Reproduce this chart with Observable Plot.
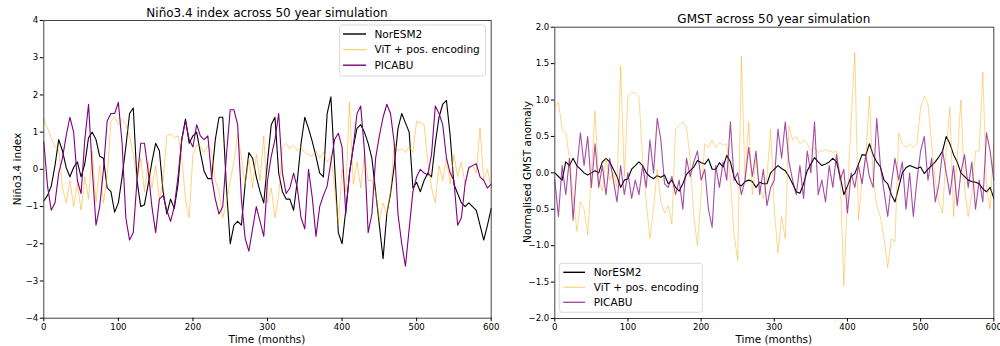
<!DOCTYPE html>
<html><head><meta charset="utf-8">
<script src="https://cdn.jsdelivr.net/npm/d3@7"></script>
<script src="https://cdn.jsdelivr.net/npm/@observablehq/plot@0.6"></script>
<style>
html,body{margin:0;padding:0;background:#fff;}
#wrap{display:flex;width:1000px;height:346px;overflow:hidden;}
svg{font-family:"DejaVu Sans",sans-serif;}
</style></head><body><div id="wrap"></div>
<script>
// x grid: months 0..600 every 5 months
const months = d3.range(0, 601, 5);
const xTicks = [0, 100, 200, 300, 400, 500, 600];
const ninoTicks = [-4, -3, -2, -1, 0, 1, 2, 3, 4];
const gmstTicks = [-2, -1.5, -1, -0.5, 0, 0.5, 1, 1.5, 2];
const seriesNames = ["NorESM2", "ViT + pos. encoding", "PICABU"];

const ninoNorESM = [
-0.85,-0.7,-0.45,0.1,0.8,0.5,0.05,-0.2,0.05,0.2,
-0.2,0.15,0.85,1.0,0.8,0.35,0.3,-0.5,-0.6,-1.15,
-0.9,-0.2,0.6,1.5,1.65,-0.3,-1.0,-0.95,-0.4,0.2,
0.7,0.5,-0.6,-1.2,-0.8,-1.05,-0.4,0.8,1.35,0.7,
0.9,1.0,0.45,-0.05,-0.25,-0.25,0.8,1.4,1.4,-0.5,
-2.0,-1.5,-1.4,-1.5,-0.4,0.45,0.3,-0.2,-0.6,-0.9,
0.2,1.2,1.4,-0.1,-0.6,-0.8,-0.8,-1.1,-0.3,0.7,
1.4,1.1,0.75,0.35,-0.1,-0.2,1.5,1.95,0.1,-1.7,
-2.0,-1.1,-0.1,0.6,1.1,1.2,1.0,0.7,0.3,-0.6,
-1.5,-2.4,-1.2,-0.65,0.1,1.1,1.5,1.25,1.0,-0.5,
-0.35,-0.6,-0.3,-0.1,-0.2,0.7,1.4,1.75,1.85,0.9,
-0.4,-0.65,-0.9,-1.0,-0.9,-1.0,-1.1,-1.5,-1.9,-1.5,
-1.05];
const ninoViT = [
1.35,1.1,0.85,0.6,0.55,-0.5,-0.9,-0.3,-1.0,-0.4,
-1.1,-0.2,-0.8,0.5,-0.9,0.1,-0.9,-0.2,1.3,1.4,
1.2,1.35,1.2,0.9,0.4,-0.3,0.3,-0.6,0.2,-0.5,
0.1,-0.8,-0.3,0.9,0.95,0.85,0.9,0.3,-0.8,-1.3,
0.4,0.65,0.6,0.45,0.65,0.5,-0.3,-0.6,-1.3,-0.9,
-0.3,0.2,0.95,0.3,-0.4,0.3,-0.5,0.4,-0.3,0.9,
-0.9,-0.5,-1.3,-0.7,0.6,0.7,0.55,0.65,0.5,0.6,
0.45,0.4,0.35,0.5,0.3,0.45,0.2,0.35,-0.5,-1.5,
0.0,-0.6,1.8,-0.4,0.2,-0.5,0.4,-0.3,-0.3,-0.6,
-1.4,-0.9,-1.2,-0.6,0.7,0.5,0.55,0.45,0.6,0.45,
1.3,1.25,1.2,0.2,-0.5,-0.9,0.1,-0.3,0.3,-0.4,
0.4,-0.2,0.2,-0.4,0.0,0.1,-0.1,1.1,-0.3,0.0,
-0.5];
const ninoPICABU = [
0.75,-0.45,-1.1,-0.9,-0.1,0.3,0.9,1.4,1.0,-0.3,
-0.65,0.8,1.75,0.0,-1.5,-1.0,0.0,1.3,1.5,1.5,
1.8,0.7,-1.3,-1.9,-1.7,-0.3,0.7,0.7,-0.05,-1.0,
-1.7,-0.8,-0.7,-1.1,-1.4,-1.0,-0.2,0.8,1.3,0.8,
0.6,1.2,0.9,0.8,0.9,-0.2,-0.8,-1.2,-1.0,0.4,
1.6,1.6,1.2,-0.8,-1.85,-2.2,-1.6,-1.0,-1.4,-1.8,
-0.3,0.35,0.8,1.5,-0.1,-0.65,-0.5,-0.1,-0.5,-1.3,
-1.6,0.0,-0.75,-1.8,-1.0,-0.7,-0.45,0.2,0.8,0.97,
0.6,-1.2,-0.1,0.6,1.5,1.7,0.5,-1.7,-1.2,0.3,
0.9,1.4,1.75,1.5,0.7,-1.2,-2.0,-2.6,-1.6,-0.6,
-0.2,0.0,-0.1,-0.15,0.4,1.7,1.5,1.2,0.3,-0.1,
-0.3,-1.5,-1.3,-0.4,0.05,0.1,0.15,-0.2,-0.3,-0.5,
-0.4];

const gmstNorESM = [
0.0,-0.05,-0.1,0.15,0.1,0.2,0.1,0.05,0.0,-0.03,
0.0,0.03,0.0,0.15,0.2,0.15,0.05,-0.05,-0.2,-0.1,
-0.08,0.05,0.1,0.15,0.1,0.0,-0.05,-0.08,-0.04,-0.06,
-0.03,-0.15,-0.1,-0.2,-0.25,-0.15,-0.02,0.03,0.08,0.17,
0.14,0.12,0.19,0.05,0.05,0.14,0.08,0.24,0.15,-0.06,
-0.15,-0.18,-0.12,-0.1,-0.12,-0.2,-0.13,-0.15,-0.15,0.0,
0.05,0.1,0.06,0.03,-0.05,-0.15,-0.26,-0.28,-0.15,0.03,
0.12,0.21,0.15,0.1,0.12,0.15,0.2,0.15,-0.05,-0.3,
-0.18,-0.05,-0.01,0.12,0.25,0.24,0.4,0.25,0.15,0.08,
-0.1,-0.15,-0.3,-0.4,-0.2,0.0,0.07,0.1,0.08,0.06,
0.08,-0.01,0.05,0.1,0.15,0.22,0.3,0.5,0.4,0.25,
0.15,0.0,-0.05,-0.1,-0.12,-0.13,-0.15,-0.22,-0.26,-0.2,
-0.35];
const gmstViT = [
0.9,0.97,0.6,0.55,0.2,-0.3,-0.8,-0.4,-0.5,-0.85,
0.0,0.85,-0.1,-0.25,0.2,-0.1,0.0,-0.2,1.47,-0.05,
1.05,1.1,1.1,1.05,0.2,-0.4,-0.9,-0.5,0.05,-0.4,
-0.55,-0.45,-0.7,0.6,0.65,0.7,0.62,0.2,-0.6,-1.0,
-0.3,0.4,0.35,0.45,0.35,0.42,0.38,0.4,-0.1,-0.85,
-1.2,1.6,-0.1,0.7,-0.3,0.2,-0.2,-0.35,-0.05,0.6,
-0.5,-1.1,-0.6,-0.9,0.65,0.45,0.5,0.4,0.45,0.4,
0.3,0.35,0.28,0.3,0.32,0.3,0.28,0.3,0.0,-1.55,
-0.3,0.7,1.65,-0.65,-0.1,0.2,1.05,-0.05,-0.45,-0.6,
-0.9,-1.3,-0.9,-0.95,0.55,0.4,0.35,0.4,0.35,0.4,
0.9,1.05,0.95,0.4,-0.1,-0.4,-0.55,0.3,0.9,-0.6,
0.2,1.0,-0.2,-0.6,-0.3,0.3,0.3,1.38,-0.2,-0.5,
0.4];
const gmstPICABU = [
-0.1,-0.6,0.1,-0.3,0.2,-0.65,0.05,0.55,0.1,0.5,
-0.2,0.4,-0.2,0.1,-0.3,0.2,-0.1,-0.4,0.1,-0.3,
0.0,-0.35,-0.1,-0.3,0.1,-0.2,0.45,0.0,0.75,0.45,
-0.15,-0.2,-0.05,-0.3,-0.1,-0.5,0.2,-0.05,0.15,0.3,
-0.1,0.05,-0.5,-0.75,0.1,-0.2,0.15,-0.1,0.7,-0.1,
0.0,-0.3,-0.1,0.35,-0.05,0.3,-0.3,0.05,-0.45,-0.2,
-0.1,0.6,0.2,0.7,0.15,-0.1,-0.3,0.1,-0.35,0.3,
0.0,0.7,-0.3,-0.1,-0.4,0.1,-0.2,0.25,-0.1,0.05,
-0.55,0.0,-0.2,0.1,-0.15,0.25,-0.05,-0.2,0.75,0.1,
-0.25,-0.6,-0.15,0.2,-0.1,0.15,-0.5,0.0,-0.6,-0.1,
0.3,0.5,-0.1,0.2,-0.4,-0.15,0.3,0.0,-0.3,0.1,
-0.45,0.0,0.25,-0.2,0.15,-0.5,-0.1,-0.4,0.55,0.3,
-0.1];

const minus = s => String(s).replace("-", "\u2212");

function makePanel(cfg) {
  const plot = Plot.plot({
    width: 500, height: 346,
    marginLeft: cfg.ml, marginRight: cfg.mr, marginTop: cfg.mt, marginBottom: cfg.mb,
    style: {fontFamily: "DejaVu Sans, sans-serif", fontSize: "8.6px", color: "#000", background: "white", overflow: "visible"},
    x: {domain: [0, 600]},
    y: {domain: cfg.yDomain},
    marks: [
      ...cfg.series.map(s => Plot.line(months.map((m, i) => ({m, v: s.values[i]})),
        {x: "m", y: "v", stroke: s.color, strokeOpacity: s.opacity, strokeWidth: s.width})),
      Plot.frame({stroke: "#444", strokeWidth: 1}),
      Plot.axisX({ticks: xTicks, tickSize: 3.5, tickPadding: 2, label: null, tickFormat: d => String(d)}),
      Plot.axisY({ticks: cfg.yTicks, tickSize: 3.5, tickPadding: 2, label: null, tickFormat: cfg.yFmt})
    ]
  });
  const svg = d3.select(plot);
  const cx = (cfg.ml + 500 - cfg.mr) / 2;
  svg.append("text").attr("x", cx).attr("y", cfg.titleY).attr("text-anchor", "middle")
    .attr("font-size", "12px").attr("fill", "#000").text(cfg.title);
  svg.append("text").attr("x", cx).attr("y", cfg.xlabelY).attr("text-anchor", "middle")
    .attr("font-size", "10.5px").attr("fill", "#000").text("Time (months)");
  svg.append("text").attr("transform", `translate(${cfg.ylabelX},${cfg.ylabelCY}) rotate(-90)`)
    .attr("text-anchor", "middle").attr("dy", "0.35em")
    .attr("font-size", "10.5px").attr("fill", "#000").text(cfg.ylabel);
  const L = cfg.legend;
  const g = svg.append("g");
  g.append("rect").attr("x", L.x).attr("y", L.y).attr("width", L.w).attr("height", L.h)
    .attr("rx", 2.5).attr("fill", "white").attr("fill-opacity", 0.8).attr("stroke", "#d0d0d0").attr("stroke-width", 0.8);
  cfg.series.forEach((s, k) => {
    const yy = L.y0 + k * L.dy;
    g.append("line").attr("x1", L.lx1).attr("x2", L.lx2).attr("y1", yy).attr("y2", yy)
      .attr("stroke", s.color).attr("stroke-opacity", s.opacity).attr("stroke-width", s.width + 0.3);
    g.append("text").attr("x", L.tx).attr("y", yy).attr("dy", "0.36em").attr("text-anchor", "start")
      .attr("font-size", "10.5px").attr("fill", "#000").text(seriesNames[k]);
  });
  return plot;
}

const wrap = document.getElementById("wrap");
wrap.appendChild(makePanel({
  ml: 43.3, mr: 9.3, mt: 20, mb: 28.3,
  yDomain: [-4, 4], yTicks: ninoTicks, yFmt: d => minus(d),
  series: [
    {values: ninoNorESM, color: "#000000", opacity: 1, width: 1.1},
    {values: ninoViT, color: "#ffa500", opacity: 0.5, width: 1},
    {values: ninoPICABU, color: "#800080", opacity: 1, width: 1.1}
  ],
  title: "Niño3.4 index across 50 year simulation", titleY: 16.5, xlabelY: 343,
  ylabel: "Niño3.4 index", ylabelX: 17, ylabelCY: 169,
  legend: {x: 339.5, y: 25, w: 146, h: 51, y0: 34, dy: 15.6, lx1: 343, lx2: 366, tx: 374.5}
}));
wrap.appendChild(makePanel({
  ml: 54.3, mr: 6.7, mt: 26.7, mb: 28,
  yDomain: [-2, 2], yTicks: gmstTicks, yFmt: d => minus(d3.format(".1f")(d)),
  series: [
    {values: gmstNorESM, color: "#000000", opacity: 1, width: 1.1},
    {values: gmstViT, color: "#ffa500", opacity: 0.45, width: 1},
    {values: gmstPICABU, color: "#800080", opacity: 0.7, width: 1.1}
  ],
  title: "GMST across 50 year simulation", titleY: 22.5, xlabelY: 342.5,
  ylabel: "Normalised GMST anomaly", ylabelX: 27, ylabelCY: 172,
  legend: {x: 59.3, y: 263.3, w: 143, h: 49, y0: 272.3, dy: 15, lx1: 63.3, lx2: 85, tx: 93.7}
}));
</script></body></html>
